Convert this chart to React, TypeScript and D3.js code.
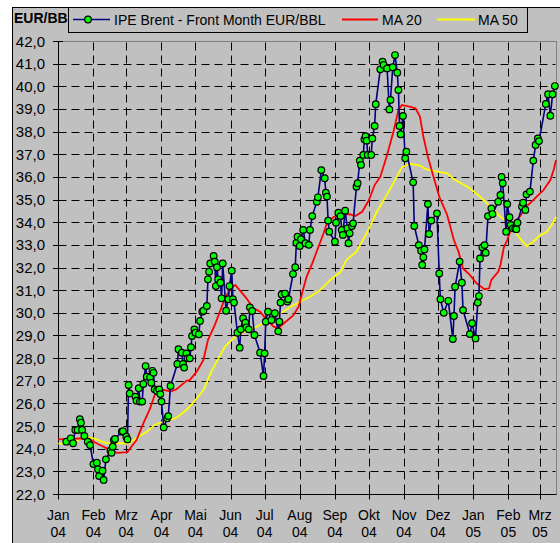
import React from 'react';
import * as d3 from 'd3';

const yAxisTitle = 'EUR/BBL';
const seriesNames = ['IPE Brent - Front Month EUR/BBL', 'MA 20', 'MA 50'];
const monthNames = ['Jan', 'Feb', 'Mrz', 'Apr', 'Mai', 'Jun', 'Jul', 'Aug', 'Sep', 'Okt', 'Nov', 'Dez'];
const yTickValues = d3.range(22, 43, 1);
const xDomain = ['2004-01-01', '2005-03-15'];

const brentDates = [
  '2004-01-08','2004-01-12','2004-01-14','2004-01-16','2004-01-18','2004-01-20','2004-01-21','2004-01-22','2004-01-24','2004-01-27','2004-01-29',
  '2004-02-01','2004-02-04','2004-02-05','2004-02-06','2004-02-09','2004-02-10','2004-02-12','2004-02-16','2004-02-17','2004-02-18','2004-02-19','2004-02-20','2004-02-26','2004-02-27',
  '2004-03-01','2004-03-02','2004-03-03','2004-03-04','2004-03-09','2004-03-10','2004-03-12','2004-03-13','2004-03-15','2004-03-16','2004-03-18','2004-03-19','2004-03-22','2004-03-23','2004-03-24','2004-03-25','2004-03-26','2004-03-28','2004-03-30','2004-03-31',
  '2004-04-01','2004-04-03','2004-04-06','2004-04-07','2004-04-09','2004-04-15','2004-04-16','2004-04-19','2004-04-20','2004-04-21','2004-04-23','2004-04-24','2004-04-26','2004-04-27','2004-04-28','2004-04-30',
  '2004-05-01','2004-05-04','2004-05-05','2004-05-07','2004-05-08','2004-05-11','2004-05-12','2004-05-13','2004-05-14','2004-05-17','2004-05-18','2004-05-19','2004-05-20','2004-05-21','2004-05-23','2004-05-24','2004-05-25','2004-05-28','2004-05-30','2004-05-31',
  '2004-06-02','2004-06-03','2004-06-04','2004-06-07','2004-06-09','2004-06-10','2004-06-12','2004-06-14','2004-06-15','2004-06-17','2004-06-18','2004-06-20','2004-06-22','2004-06-27','2004-06-30',
  '2004-07-01','2004-07-02','2004-07-04','2004-07-07','2004-07-10','2004-07-13','2004-07-14','2004-07-15','2004-07-16','2004-07-19','2004-07-21','2004-07-22','2004-07-26','2004-07-28','2004-07-29','2004-07-30',
  '2004-08-01','2004-08-02','2004-08-04','2004-08-06','2004-08-09','2004-08-10','2004-08-12','2004-08-16','2004-08-17','2004-08-20','2004-08-23','2004-08-24','2004-08-25','2004-08-26','2004-08-27',
  '2004-09-01','2004-09-02','2004-09-04','2004-09-06','2004-09-07','2004-09-08','2004-09-10','2004-09-12','2004-09-13','2004-09-14','2004-09-16','2004-09-17','2004-09-20','2004-09-21','2004-09-23','2004-09-24','2004-09-26','2004-09-27','2004-09-28','2004-09-29','2004-09-30',
  '2004-10-03','2004-10-04','2004-10-06','2004-10-07','2004-10-11','2004-10-13','2004-10-14','2004-10-17','2004-10-19','2004-10-20','2004-10-22','2004-10-24','2004-10-26','2004-10-27','2004-10-28','2004-10-29','2004-10-31',
  '2004-11-02','2004-11-03','2004-11-09','2004-11-10','2004-11-14','2004-11-16','2004-11-17','2004-11-18','2004-11-19','2004-11-22','2004-11-23','2004-11-25','2004-11-30',
  '2004-12-02','2004-12-03','2004-12-06','2004-12-10','2004-12-14','2004-12-15','2004-12-16','2004-12-20','2004-12-22','2004-12-23','2004-12-29','2004-12-31',
  '2005-01-03','2005-01-05','2005-01-06','2005-01-07','2005-01-09','2005-01-11','2005-01-12','2005-01-14','2005-01-17','2005-01-18','2005-01-23','2005-01-25','2005-01-26','2005-01-27','2005-01-30','2005-01-31',
  '2005-02-02','2005-02-03','2005-02-05','2005-02-07','2005-02-08','2005-02-09','2005-02-13','2005-02-14','2005-02-16','2005-02-17','2005-02-20','2005-02-23','2005-02-25','2005-02-27','2005-02-28',
  '2005-03-06','2005-03-08','2005-03-10','2005-03-12','2005-03-14',
];
const brentValues = [
  24.31,24.46,24.24,24.83,24.83,25.30,25.15,24.83,24.56,24.31,24.16,
  23.32,23.38,23.09,22.79,23.03,22.62,23.53,23.91,23.82,24.09,24.38,24.43,24.75,24.77,
  24.53,24.41,26.81,26.44,26.30,26.12,26.67,26.08,26.08,26.86,27.65,27.18,27.15,26.91,27.44,27.35,26.62,26.55,26.62,26.41,
  26.08,24.94,25.34,25.44,26.77,27.74,28.39,28.24,27.74,27.58,28.21,27.99,27.99,28.48,28.98,29.27,
  29.12,29.05,29.64,30.05,30.09,30.30,31.48,31.81,32.18,32.51,32.26,31.18,32.01,31.48,31.33,30.64,32.18,30.09,30.60,31.18,
  31.86,30.60,30.45,29.12,28.46,29.27,29.76,29.56,29.36,29.27,30.24,30.08,29.02,28.24,27.21,
  28.21,29.61,30.05,29.68,29.98,29.18,29.61,30.45,30.81,30.85,30.50,30.60,31.71,32.01,33.09,33.36,
  32.95,33.25,33.66,33.07,33.00,33.66,34.27,34.90,35.10,36.30,35.94,35.30,35.13,34.07,33.58,
  33.14,33.98,34.42,34.27,33.66,33.44,34.51,33.73,33.07,33.51,33.83,33.95,35.57,35.72,36.72,36.53,36.97,37.66,37.80,37.60,36.97,
  36.97,37.70,38.25,39.21,40.75,41.09,40.94,40.79,38.98,39.40,40.84,41.38,40.60,39.84,38.25,37.88,38.69,
  36.82,37.11,35.76,33.83,32.99,32.74,32.11,32.45,32.80,34.80,33.48,34.07,34.39,
  31.74,30.60,30.00,30.53,28.84,29.86,31.15,32.26,31.33,30.12,29.06,29.54,
  28.87,30.45,30.74,32.40,32.89,32.99,32.65,34.27,34.61,34.36,34.90,35.20,36.00,35.72,33.58,34.80,
  34.22,33.88,33.73,33.73,33.69,33.98,34.69,34.86,34.54,35.23,35.35,36.72,37.41,37.70,37.58,
  39.22,39.65,38.70,39.65,40.01,
];

const ma20Dates = [
  '2004-01-01','2004-01-20','2004-01-27','2004-02-05','2004-02-16','2004-02-22','2004-03-02','2004-03-06','2004-03-10','2004-03-16','2004-03-22','2004-03-26',
  '2004-04-03','2004-04-09','2004-04-14','2004-04-17','2004-04-23','2004-04-26','2004-05-02','2004-05-08','2004-05-12','2004-05-18','2004-05-23','2004-05-27','2004-05-31',
  '2004-06-05','2004-06-09','2004-06-15','2004-06-21','2004-06-27','2004-07-03','2004-07-09','2004-07-13','2004-07-18','2004-07-26','2004-07-31',
  '2004-08-03','2004-08-07','2004-08-12','2004-08-17','2004-08-22','2004-08-25','2004-08-31','2004-09-06','2004-09-14','2004-09-19','2004-09-25',
  '2004-10-01','2004-10-06','2004-10-11','2004-10-17','2004-10-23','2004-10-27','2004-10-30','2004-11-06','2004-11-11','2004-11-15','2004-11-18','2004-11-22','2004-11-27',
  '2004-12-02','2004-12-09','2004-12-15','2004-12-19','2004-12-23','2004-12-29','2005-01-04','2005-01-11','2005-01-15','2005-01-17','2005-01-23','2005-01-25','2005-01-28','2005-01-31',
  '2005-02-05','2005-02-11','2005-02-17','2005-02-26','2005-03-04','2005-03-10','2005-03-13','2005-03-15',
];
const ma20Values = [
  24.41,24.45,24.45,24.21,23.94,23.82,23.85,24.12,24.38,25.12,25.78,26.37,
  26.60,26.52,26.62,26.74,27.00,27.03,27.40,27.92,28.80,29.46,30.12,30.64,31.00,
  31.23,31.00,30.64,30.20,30.05,29.68,29.39,29.32,29.54,29.87,30.27,
  30.86,31.59,32.18,32.85,33.51,33.95,34.24,34.32,34.36,34.27,34.46,
  34.98,35.64,36.00,36.97,38.07,38.95,39.17,39.10,39.03,38.66,37.78,36.89,36.00,
  35.13,34.32,33.20,32.70,31.96,31.67,31.30,31.04,31.08,31.45,31.81,32.11,32.89,33.21,
  33.95,34.24,34.69,35.13,35.42,35.86,36.31,36.75,
];

const ma50Dates = [
  '2004-01-01','2004-01-14','2004-01-23','2004-02-01','2004-02-13','2004-02-24','2004-03-03','2004-03-10','2004-03-19','2004-03-26',
  '2004-04-03','2004-04-14','2004-04-23','2004-05-01','2004-05-08','2004-05-15','2004-05-23','2004-05-27','2004-06-02','2004-06-09','2004-06-18','2004-06-27',
  '2004-07-06','2004-07-15','2004-07-23','2004-08-01','2004-08-10','2004-08-19','2004-08-28','2004-09-06','2004-09-11','2004-09-20','2004-09-29',
  '2004-10-08','2004-10-15','2004-10-24','2004-10-30','2004-11-06','2004-11-15','2004-11-20','2004-11-28','2004-12-09','2004-12-15','2004-12-29',
  '2005-01-07','2005-01-16','2005-01-25','2005-02-03','2005-02-10','2005-02-17','2005-02-23','2005-02-28','2005-03-07','2005-03-13','2005-03-15',
];
const ma50Values = [
  24.22,24.24,24.53,24.46,24.24,24.24,24.24,24.46,24.75,25.05,
  25.20,25.36,25.71,26.15,26.59,27.40,28.14,28.50,28.80,29.09,29.24,29.46,
  29.75,29.98,30.23,30.49,30.71,31.00,31.45,31.81,32.33,32.70,33.51,
  34.46,35.05,35.86,36.42,36.58,36.50,36.34,36.25,36.16,35.90,35.50,
  35.13,34.69,34.24,33.88,33.36,32.95,33.14,33.39,33.58,34.02,34.24,
];

const FONT = '"Liberation Sans", Arial, sans-serif';
const parse = d3.utcParse('%Y-%m-%d');

export default function App() {
  const W = 560, H = 543;
  const x = d3.scaleUtc().domain(xDomain.map((s) => parse(s) as Date)).range([58.3, 556]);
  const y = d3.scaleLinear().domain([22, 42]).range([494, 41]);
  const plotL = 58.5, plotR = 556.5, plotT = 41.5, plotB = 494.5;

  const brent = brentDates.map((d, i) => ({ d: parse(d) as Date, v: brentValues[i] }));
  const ma20 = ma20Dates.map((d, i) => ({ d: parse(d) as Date, v: ma20Values[i] }));
  const ma50 = ma50Dates.map((d, i) => ({ d: parse(d) as Date, v: ma50Values[i] }));

  const line = d3.line<{ d: Date; v: number }>().x((p) => x(p.d)).y((p) => y(p.v));

  const months = d3.utcMonth.range(parse(xDomain[0]) as Date, parse(xDomain[1]) as Date);
  const crisp = (v: number) => Math.round(v) + 0.5;

  return (
    <svg width={W} height={H} style={{ position: 'absolute', left: 0, top: 0, display: 'block' }}
      fontFamily={FONT}>
      <rect x={0} y={0} width={W} height={H} fill="#ffffff" />
      <rect x={12.5} y={7.5} width={600} height={600} fill="#C0C0C0" stroke="#000" strokeWidth={1} />
      <text x={14} y={23} fontSize={14} fontWeight="bold" fill="#000">{yAxisTitle}</text>

      {/* plot area border */}
      <rect x={plotL} y={plotT} width={plotR - plotL} height={plotB - plotT} fill="none" stroke="#808080" strokeWidth={1} />

      {/* horizontal gridlines */}
      {yTickValues.filter((v) => v > 22 && v < 42).map((v) => (
        <line key={'hg' + v} x1={plotL} x2={plotR - 1} y1={crisp(y(v))} y2={crisp(y(v))}
          stroke="#000" strokeWidth={1} strokeDasharray="8,5" />
      ))}
      {/* vertical gridlines */}
      {months.slice(1).map((m) => (
        <line key={'vg' + m.getTime()} x1={crisp(x(m))} x2={crisp(x(m))} y1={plotT + 1} y2={plotB}
          stroke="#000" strokeWidth={1} strokeDasharray="8,5" />
      ))}

      {/* axes */}
      <line x1={plotL} x2={plotL} y1={plotT} y2={plotB} stroke="#000" strokeWidth={1} />
      <line x1={plotL} x2={plotR} y1={plotB} y2={plotB} stroke="#000" strokeWidth={1} />
      {yTickValues.map((v) => (
        <g key={'yt' + v}>
          <line x1={53} x2={63} y1={crisp(y(v))} y2={crisp(y(v))} stroke="#000" strokeWidth={1} />
          <text x={45} y={y(v) + 5.5} fontSize={15} textAnchor="end" fill="#000">
            {d3.format('.1f')(v).replace('.', ',')}
          </text>
        </g>
      ))}
      {months.map((m) => (
        <g key={'xt' + m.getTime()}>
          <line x1={crisp(x(m))} x2={crisp(x(m))} y1={489.5} y2={499.5} stroke="#000" strokeWidth={1} />
          <text x={x(m)} y={519.5} fontSize={14} textAnchor="middle" fill="#000">
            {monthNames[m.getUTCMonth()]}
          </text>
          <text x={x(m)} y={537} fontSize={14} textAnchor="middle" fill="#000">
            {d3.utcFormat('%y')(m)}
          </text>
        </g>
      ))}

      {/* moving averages */}
      <path d={line(ma50) || ''} fill="none" stroke="#FFFF00" strokeWidth={1.8} />
      <path d={line(ma20) || ''} fill="none" stroke="#FF0000" strokeWidth={1.8} />

      {/* brent series */}
      <path d={line(brent) || ''} fill="none" stroke="#000080" strokeWidth={1.6} />
      {brent.map((p, i) => (
        <circle key={'m' + i} cx={x(p.d)} cy={y(p.v)} r={3.3} fill="#00FF00" stroke="#000" strokeWidth={1.2} />
      ))}

      {/* legend */}
      <rect x={68.5} y={7.5} width={459} height={25} fill="#C0C0C0" stroke="#000" strokeWidth={1} />
      <line x1={73} x2={110} y1={19.5} y2={19.5} stroke="#000080" strokeWidth={1.6} />
      <circle cx={88} cy={19.5} r={3.3} fill="#00FF00" stroke="#000" strokeWidth={1.2} />
      <text x={114} y={25} fontSize={14} fill="#000">{seriesNames[0]}</text>
      <line x1={342} x2={378} y1={19.5} y2={19.5} stroke="#FF0000" strokeWidth={1.8} />
      <text x={382} y={25} fontSize={14} fill="#000">{seriesNames[1]}</text>
      <line x1={437} x2={475} y1={19.5} y2={19.5} stroke="#FFFF00" strokeWidth={1.8} />
      <text x={478} y={25} fontSize={14} fill="#000">{seriesNames[2]}</text>
    </svg>
  );
}
